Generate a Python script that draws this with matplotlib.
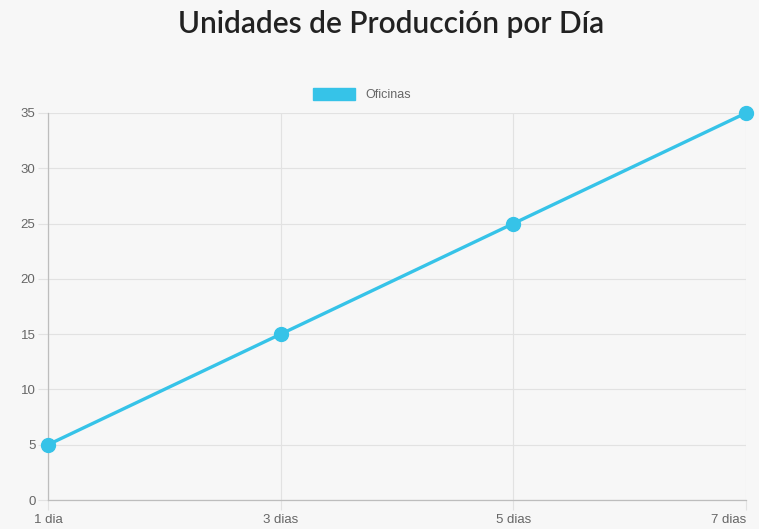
import matplotlib.pyplot as plt

# chart data
dias = ['1 dia', '3 dias', '5 dias', '7 dias']
oficinas = [5, 15, 25, 35]
y_ticks = [0, 5, 10, 15, 20, 25, 30, 35]

bg = '#f7f7f7'
line_color = '#36c3e8'
grid_color = '#e2e2e2'

fig = plt.figure(figsize=(7.59, 5.29), dpi=100, facecolor=bg)
ax = fig.add_axes([0.0632, 0.0548, 0.9197, 0.7316], facecolor=bg)

x = list(range(len(dias)))
ax.plot(x, oficinas, color=line_color, linewidth=2.4, marker='o',
        markersize=10, markerfacecolor=line_color, markeredgecolor=line_color,
        label='Oficinas', zorder=3, clip_on=False)

ax.set_xlim(0, len(dias) - 1)
ax.set_ylim(0, 35)
ax.set_xticks(x)
ax.set_xticklabels(dias)
ax.set_yticks(y_ticks)

ax.grid(True, color=grid_color, linewidth=0.8)
ax.set_axisbelow(True)
for side in ['top', 'right']:
    ax.spines[side].set_visible(False)
for side in ['left', 'bottom']:
    ax.spines[side].set_color('#bdbdbd')
    ax.spines[side].set_linewidth(0.9)

ax.tick_params(axis='both', colors=grid_color, length=7, width=0.8,
               labelcolor='#666666', labelsize=9.5)
ax.tick_params(axis='x', pad=3)
ax.tick_params(axis='y', pad=2)
for lbl in ax.get_xticklabels() + ax.get_yticklabels():
    lbl.set_fontfamily('Liberation Sans')
# last label sits at the right edge, keep it inside the picture
ax.get_xticklabels()[-1].set_horizontalalignment('right')
ax.get_xticklabels()[-1].set_x(len(dias) - 1 + 0.03)

fig.text(0.515, 0.955, 'Unidades de Producción por Día', ha='center', va='center',
         fontsize=21.5, fontfamily='Lato', fontweight='semibold', color='#222222')

leg = fig.legend(handles=[plt.Rectangle((0, 0), 1, 1, color=line_color)],
                 labels=['Oficinas'], loc='center', bbox_to_anchor=(0.477, 0.822),
                 frameon=False, handlelength=3.4, handleheight=1.1,
                 prop={'family': 'Liberation Sans', 'size': 9})
for t in leg.get_texts():
    t.set_color('#666666')

fig.savefig('out.png', dpi=100, facecolor=bg)
